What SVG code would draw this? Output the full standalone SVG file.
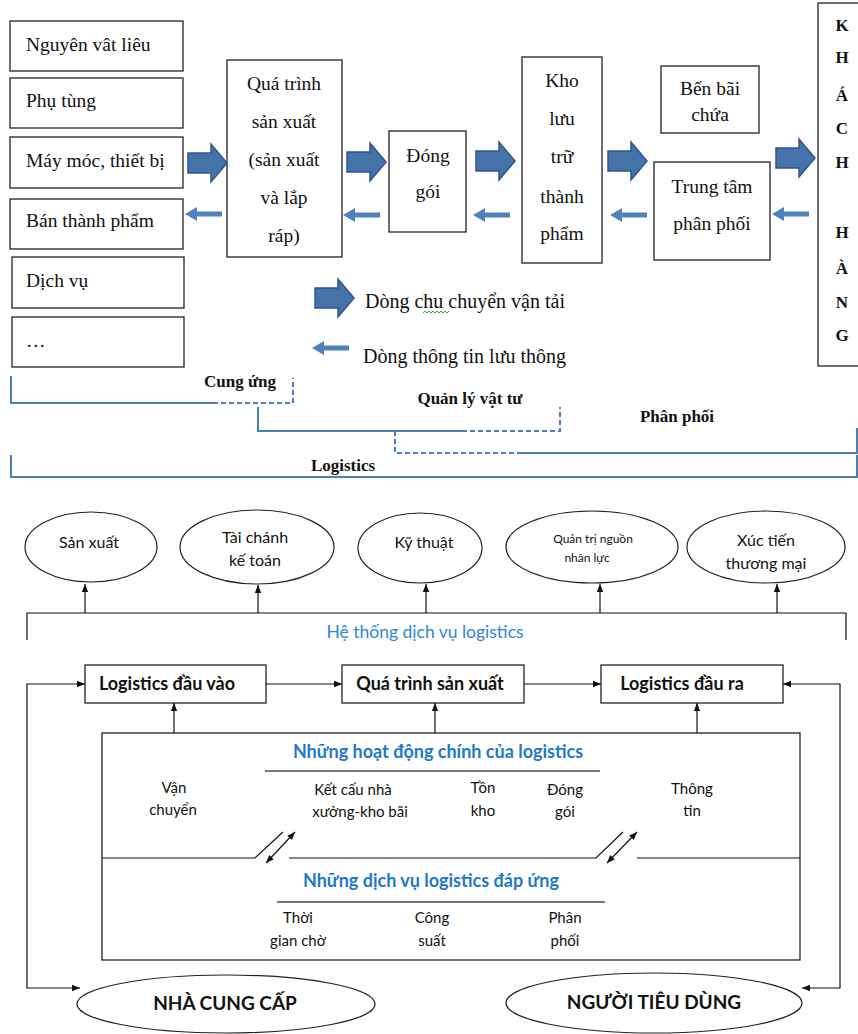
<svg xmlns="http://www.w3.org/2000/svg" width="858" height="1034" viewBox="0 0 858 1034">
<defs>
<style>
.box{fill:#fff;stroke:#222;stroke-width:1.3}
.t{font-family:"Liberation Serif","Times New Roman",serif;font-size:19.5px;fill:#111}
.c{text-anchor:middle}
.tb{font-family:"Liberation Serif","Times New Roman",serif;font-weight:bold;font-size:17px;fill:#111;text-anchor:middle}
.s{font-family:Lato,"Noto Sans",sans-serif;font-size:15px;fill:#111;text-anchor:middle}
.sb{font-family:Lato,"Noto Sans",sans-serif;font-size:18px;font-weight:bold;fill:#111;text-anchor:middle}
.blue{font-family:Lato,"Noto Sans",sans-serif;font-size:18px;font-weight:bold;fill:#1f78c8;text-anchor:middle}
.br{stroke:#4a7ebb;stroke-width:2;fill:none}
.brd{stroke:#4a7ebb;stroke-width:2;fill:none;stroke-dasharray:5,3}
.ln{stroke:#111;stroke-width:1.2;fill:none}
.gray{stroke:#777;stroke-width:2;fill:none}
.big{fill:#4672aa;stroke:#2f558a;stroke-width:1.5}
.small{fill:#4f81bd}
.ell{fill:#fff;stroke:#222;stroke-width:1.2}
</style>
<path id="bigArrow" d="M0,-10 H23 V-19 L39,0 L23,19 V10 H0 Z"/>
<path id="smallArrow" d="M0,0 L12,-7 V-2.5 H37 V2.5 H12 V7 Z"/>
<marker id="ah" viewBox="0 0 10 10" refX="10" refY="5" markerWidth="8" markerHeight="8" markerUnits="userSpaceOnUse" orient="auto-start-reverse"><path d="M0,1 L10,5 L0,9 Z" fill="#111"/></marker>
</defs>
<rect width="858" height="1034" fill="#fff"/>

<!-- Top section nodes -->
<g id="n-nguyenvatlieu"><rect class="box" x="10" y="21" width="173" height="50"/><text class="t" x="26" y="51">Nguyên vât liêu</text></g>
<g id="n-phutung"><rect class="box" x="10" y="78" width="173" height="50"/><text class="t" x="26" y="107">Phụ tùng</text></g>
<g id="n-maymoc"><rect class="box" x="10" y="137" width="173" height="51"/><text class="t" x="26" y="167">Máy móc, thiết bị</text></g>
<g id="n-banthanhpham"><rect class="box" x="10" y="199" width="173" height="50"/><text class="t" x="26" y="227">Bán thành phẩm</text></g>
<g id="n-dichvu"><rect class="box" x="12" y="257" width="172" height="51"/><text class="t" x="26" y="287">Dịch vụ</text></g>
<g id="n-etc"><rect class="box" x="12" y="317" width="172" height="50"/><text class="t" x="26" y="347">…</text></g>

<g id="n-quatrinh"><rect class="box" x="227" y="60" width="115" height="197"/>
<text class="t c" x="284" y="90">Quá trình</text><text class="t c" x="284" y="128">sản xuất</text><text class="t c" x="284" y="166">(sản xuất</text><text class="t c" x="284" y="204">và lắp</text><text class="t c" x="284" y="242">ráp)</text></g>
<g id="n-donggoi"><rect class="box" x="389" y="131" width="77" height="101"/>
<text class="t c" x="428" y="162">Đóng</text><text class="t c" x="428" y="198">gói</text></g>
<g id="n-kho"><rect class="box" x="522" y="57" width="80" height="206"/>
<text class="t c" x="562" y="87">Kho</text><text class="t c" x="562" y="125">lưu</text><text class="t c" x="562" y="163">trữ</text><text class="t c" x="562" y="203">thành</text><text class="t c" x="562" y="240">phẩm</text></g>
<g id="n-benbai"><rect class="box" x="661" y="66" width="98" height="67"/>
<text class="t c" x="710" y="95">Bến bãi</text><text class="t c" x="710" y="121">chứa</text></g>
<g id="n-trungtam"><rect class="box" x="654" y="162" width="116" height="98"/>
<text class="t c" x="712" y="193">Trung tâm</text><text class="t c" x="712" y="230">phân phối</text></g>
<g id="n-khachhang"><rect class="box" x="818" y="3" width="44" height="363"/>
<g class="tb"><text x="842" y="31">K</text><text x="842" y="63">H</text><text x="842" y="101">Á</text><text x="842" y="134">C</text><text x="842" y="168">H</text><text x="842" y="238">H</text><text x="842" y="274">À</text><text x="842" y="308">N</text><text x="842" y="341">G</text></g></g>

<!-- Top section arrows -->
<g id="flow-arrows">
<use href="#bigArrow" class="big" x="188" y="163"/>
<use href="#bigArrow" class="big" x="347" y="162"/>
<use href="#bigArrow" class="big" x="476" y="161"/>
<use href="#bigArrow" class="big" x="608" y="161"/>
<use href="#bigArrow" class="big" x="776" y="158"/>
<use href="#smallArrow" class="small" x="185" y="214"/>
<use href="#smallArrow" class="small" x="343" y="215"/>
<use href="#smallArrow" class="small" x="473" y="215"/>
<use href="#smallArrow" class="small" x="610" y="215"/>
<use href="#smallArrow" class="small" x="772" y="214"/>
</g>

<!-- Legend -->
<g id="legend">
<use href="#bigArrow" class="big" x="315" y="298"/>
<text class="t" x="365" y="308" style="font-size:20px">Dòng chu chuyển vận tải</text>
<path d="M423,313 l2,-2 l2,2 l2,-2 l2,2 l2,-2 l2,2 l2,-2 l2,2 l2,-2 l2,2 l2,-2 l2,2 l2,-2" stroke="#3aa63a" stroke-width="1" fill="none"/>
<use href="#smallArrow" class="small" x="312" y="348"/>
<text class="t" x="363" y="363" style="font-size:20px">Dòng thông tin lưu thông</text>
</g>

<!-- Brackets -->
<g id="brackets">
<path class="br" d="M11,376 V403 H213"/><path class="brd" d="M213,403 H293 V378"/>
<text class="tb" x="240" y="387">Cung ứng</text>
<path class="br" d="M258,407 V431 H462"/><path class="brd" d="M462,431 H560 V407"/>
<text class="tb" x="470" y="404">Quản lý vật tư</text>
<path class="brd" d="M395,431 V453 H520"/><path class="br" d="M520,453 H857 V428"/>
<text class="tb" x="677" y="422">Phân phối</text>
<path class="br" d="M11,455 V477 H857 V455"/>
<text class="tb" x="343" y="471">Logistics</text>
</g>

<!-- Middle section: ellipses -->
<g id="n-sanxuat"><ellipse class="ell" cx="91" cy="547" rx="66" ry="35"/><text class="s" x="89" y="548" style="font-size:16px">Sản xuất</text></g>
<g id="n-taichanh"><ellipse class="ell" cx="257" cy="547" rx="77" ry="37"/><text class="s" x="255" y="543" style="font-size:16px">Tài chánh</text><text class="s" x="255" y="566" style="font-size:16px">kế toán</text></g>
<g id="n-kythuat"><ellipse class="ell" cx="420" cy="548" rx="62" ry="35"/><text class="s" x="424" y="548" style="font-size:16px">Kỹ thuật</text></g>
<g id="n-quantri"><ellipse class="ell" cx="592" cy="547" rx="86" ry="36"/><text class="s" x="593" y="543" style="font-size:12px">Quản trị nguồn</text><text class="s" x="587" y="562" style="font-size:12px">nhân lực</text></g>
<g id="n-xuctien"><ellipse class="ell" cx="766" cy="547" rx="79" ry="36"/><text class="s" x="766" y="546" style="font-size:16px">Xúc tiến</text><text class="s" x="766" y="569" style="font-size:16px">thương mại</text></g>

<g id="n-hethong"><text class="s" x="425" y="638" style="fill:#2f86d6;font-size:17.5px">Hệ thống dịch vụ logistics</text></g>

<!-- Lower section nodes -->
<g id="n-ldauvao"><rect class="box" x="85" y="665" width="181" height="38"/><text class="sb" x="167" y="690">Logistics đầu vào</text></g>
<g id="n-qtsx"><rect class="box" x="342" y="665" width="182" height="38"/><text class="sb" x="430" y="690">Quá trình sản xuất</text></g>
<g id="n-ldaura"><rect class="box" x="601" y="665" width="182" height="38"/><text class="sb" x="682" y="690">Logistics đầu ra</text></g>

<g id="n-hoatdong">
<rect class="box" x="102" y="733" width="698" height="227"/>
<text class="blue" x="438" y="758">Những hoạt động chính của logistics</text>
<line class="gray" x1="265" y1="771" x2="600" y2="771"/>
<text class="s" x="174" y="793">Vận</text><text class="s" x="173" y="815">chuyển</text>
<text class="s" x="353" y="795">Kết cấu nhà</text><text class="s" x="360" y="817">xưởng-kho bãi</text>
<text class="s" x="483" y="793">Tồn</text><text class="s" x="483" y="816">kho</text>
<text class="s" x="565" y="795">Đóng</text><text class="s" x="565" y="817">gói</text>
<text class="s" x="692" y="794">Thông</text><text class="s" x="692" y="816">tin</text>
<path class="ln" d="M102,858 H255 L283,832"/>
<path class="ln" d="M289,858 H596 L623,832"/>
<path class="ln" d="M637,858 H800"/>
<text class="blue" x="431" y="887">Những dịch vụ logistics đáp ứng</text>
<line class="gray" x1="277" y1="902" x2="605" y2="902"/>
<text class="s" x="298" y="923">Thời</text><text class="s" x="298" y="946">gian chờ</text>
<text class="s" x="432" y="923">Công</text><text class="s" x="432" y="946">suất</text>
<text class="s" x="565" y="923">Phân</text><text class="s" x="565" y="946">phối</text>
</g>

<g id="n-nhacungcap"><ellipse class="ell" cx="226" cy="1004" rx="149" ry="29"/><text class="sb" x="225" y="1010" style="font-size:19px">NHÀ CUNG CẤP</text></g>
<g id="n-nguoitieudung"><ellipse class="ell" cx="654" cy="1003" rx="148" ry="30"/><text class="sb" x="654" y="1009" style="font-size:19px">NGƯỜI TIÊU DÙNG</text></g>

<!-- Connectors -->
<g id="connectors">
<path class="ln" d="M27,640 V613 H846 V640"/>
<line class="ln" x1="85" y1="613" x2="85" y2="584" marker-end="url(#ah)"/>
<line class="ln" x1="258" y1="613" x2="258" y2="585" marker-end="url(#ah)"/>
<line class="ln" x1="426" y1="613" x2="426" y2="584" marker-end="url(#ah)"/>
<line class="ln" x1="600" y1="613" x2="600" y2="584" marker-end="url(#ah)"/>
<line class="ln" x1="777" y1="613" x2="777" y2="584" marker-end="url(#ah)"/>
<line class="ln" x1="266" y1="684" x2="342" y2="684" marker-end="url(#ah)"/>
<line class="ln" x1="524" y1="684" x2="601" y2="684" marker-end="url(#ah)"/>
<path class="ln" d="M80,988 H27 V684 H85" marker-start="url(#ah)" marker-end="url(#ah)"/>
<path class="ln" d="M802,988 H840 V684 H783" marker-start="url(#ah)" marker-end="url(#ah)"/>
<line class="ln" x1="174" y1="733" x2="174" y2="703" marker-end="url(#ah)"/>
<line class="ln" x1="435" y1="733" x2="435" y2="703" marker-end="url(#ah)"/>
<line class="ln" x1="697" y1="733" x2="697" y2="703" marker-end="url(#ah)"/>
<line class="ln" x1="266" y1="863" x2="295" y2="832" marker-start="url(#ah)" marker-end="url(#ah)"/>
<line class="ln" x1="607" y1="863" x2="637" y2="832" marker-start="url(#ah)" marker-end="url(#ah)"/>
</g>
</svg>
